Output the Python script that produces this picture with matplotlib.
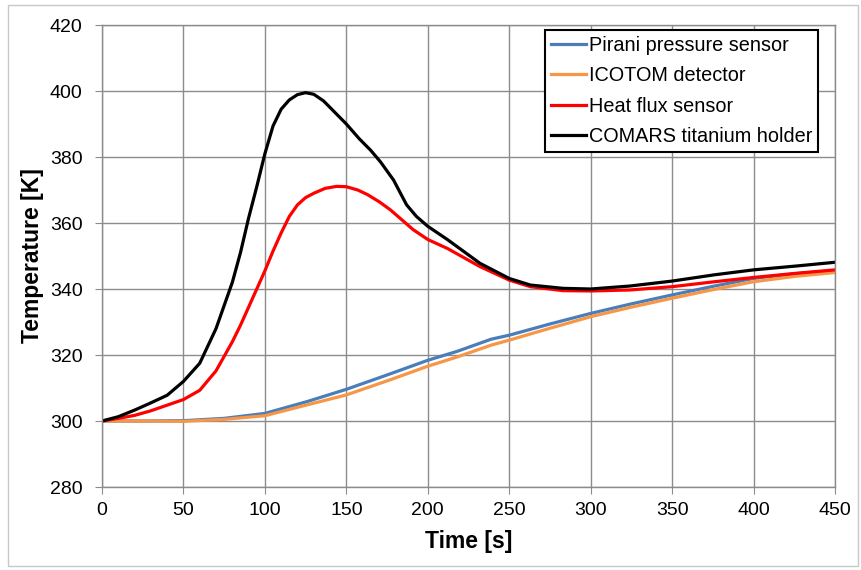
import matplotlib
matplotlib.use("Agg")
import matplotlib.pyplot as plt
from matplotlib.patches import Rectangle

plt.rcParams['font.family'] = ['Liberation Sans', 'DejaVu Sans']

# COMARS titanium holder: time (s) and temperature (K)
t_comars = [0, 10, 20, 30, 40, 50, 60, 70, 80, 85, 90, 95, 100, 105, 110, 115, 120, 125, 130,
            136, 143, 150, 158, 165, 171, 179, 187, 193, 200, 212, 232, 250, 263, 283, 300,
            324, 350, 376, 400, 427, 450]
comars = [300, 301.3, 303.3, 305.5, 307.8, 312, 317.5, 328, 342, 351, 361.5, 371, 381, 389.4,
          394.5, 397.3, 398.9, 399.5, 399, 397, 393.5, 390, 385.5, 382, 378.5, 373, 365.5, 362,
          359, 355, 347.8, 343.2, 341.2, 340.2, 340, 340.9, 342.4, 344.3, 345.8, 347, 348.1]

# Heat flux sensor
t_heat = [0, 10, 20, 30, 40, 50, 60, 70, 80, 85, 90, 95, 100, 105, 110, 115, 120, 125, 130, 137,
          144, 150, 157, 163, 170, 177, 184, 191, 200, 212, 232, 250, 263, 283, 300, 324, 350,
          376, 400, 427, 450]
heatflux = [300, 300.8, 301.7, 303.1, 304.8, 306.5, 309.3, 315.2, 324, 329, 334.5, 340, 345.5,
            351.5, 357, 362, 365.5, 367.7, 369, 370.5, 371.1, 371, 370, 368.6, 366.5, 364, 361,
            358, 355, 352.3, 346.8, 342.7, 340.7, 339.5, 339.4, 339.7, 340.7, 342.2, 343.5,
            344.8, 345.8]

# Pirani pressure sensor
t_pirani = [0, 25, 50, 75, 100, 126, 150, 177, 200, 218, 239, 250, 275, 300, 325, 350, 375,
            400, 425, 450]
pirani = [300, 300, 300.1, 300.8, 302.3, 305.9, 309.6, 314.3, 318.4, 321.1, 324.8, 326, 329.4,
          332.6, 335.5, 338.2, 340.8, 343.2, 344.6, 345.6]

# ICOTOM detector
t_icotom = [0, 25, 50, 75, 100, 126, 150, 177, 200, 218, 239, 250, 275, 300, 325, 350, 375,
            400, 425, 450]
icotom = [300, 300, 299.9, 300.5, 301.6, 304.9, 307.9, 312.5, 316.6, 319.4, 323, 324.5, 328.1,
          331.6, 334.5, 337.2, 339.8, 342.2, 343.8, 345]

labels = ["Pirani pressure sensor", "ICOTOM detector", "Heat flux sensor",
          "COMARS titanium holder"]
colors = ["#4a7ebb", "#f79646", "#ff0000", "#000000"]

fig = plt.figure(figsize=(8.62, 5.70), dpi=100)
ax = fig.add_axes([102/862, 1-487/570, (835-102)/862, (487-25)/570])

ax.plot(t_pirani, pirani, color=colors[0], lw=2.3, label=labels[0])
ax.plot(t_icotom, icotom, color=colors[1], lw=2.3, label=labels[1])
ax.plot(t_heat, heatflux, color=colors[2], lw=2.3, label=labels[2])
ax.plot(t_comars, comars, color=colors[3], lw=2.3, label=labels[3])

ax.set_xlim(0, 450)
ax.set_ylim(280, 420)
ax.set_xticks(range(0, 451, 50))
ax.set_yticks(range(280, 421, 20))
ax.grid(True, color="#8c8c8c", lw=1.0)
ax.set_axisbelow(True)
for s in ax.spines.values():
    s.set_color("#8c8c8c")
    s.set_linewidth(1.0)
ax.tick_params(axis='both', length=5, color="#8c8c8c", labelsize=14)
ax.tick_params(axis='y', pad=9)
ax.tick_params(axis='x', pad=6)

ax.set_xlabel("Time [s]", fontsize=16.5, fontweight='bold', labelpad=8)
ax.set_ylabel("Temperature [K]", fontsize=16.5, fontweight='bold', labelpad=4)

leg = ax.legend(loc='upper right', bbox_to_anchor=((818-102)/733, 1-5/462), borderaxespad=0,
                fontsize=14.3, handlelength=1.75, handletextpad=0.15, labelspacing=0.57,
                borderpad=0.3, fancybox=False, framealpha=1)
leg.get_frame().set_edgecolor("black")
leg.get_frame().set_linewidth(1.5)

fig.patches.append(Rectangle((8/862, 4/570), 1-12/862, 1-9/570, transform=fig.transFigure,
                             fill=False, edgecolor="#c8c8c8", lw=1.0))

fig.savefig("out.png", dpi=100)
